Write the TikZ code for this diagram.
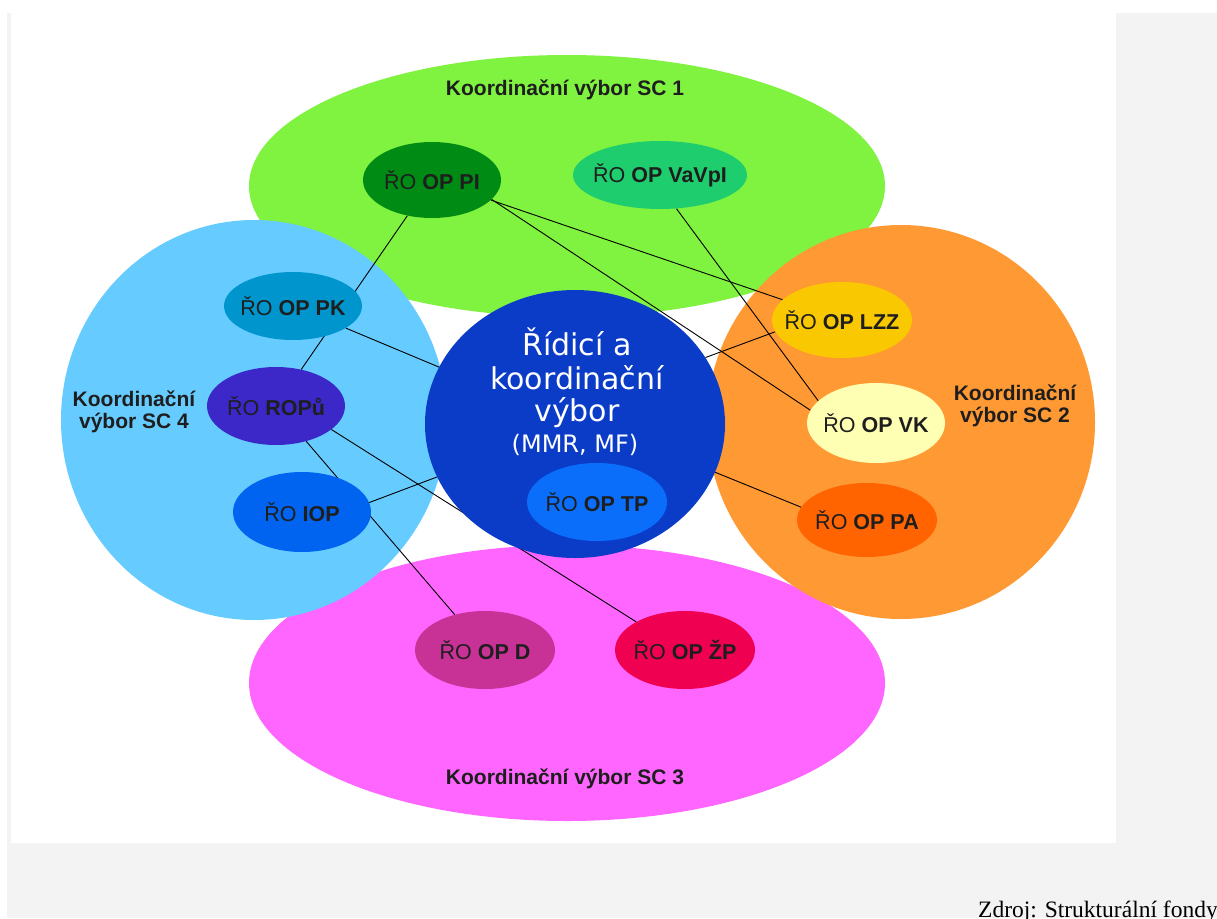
\documentclass[tikz,border=0pt]{standalone}
\usepackage{fontspec}
\setmainfont{Liberation Sans}
\newfontfamily\serifz{Liberation Serif}
\newfontfamily\dejavu{DejaVu Sans}
\usetikzlibrary{shapes.geometric}

\definecolor{bgray}{RGB}{243,243,243}
\definecolor{cgreen}{RGB}{128,242,64}
\definecolor{clblue}{RGB}{102,204,255}
\definecolor{corange}{RGB}{255,153,51}
\definecolor{cmagenta}{RGB}{255,102,255}
\definecolor{ccentral}{RGB}{10,60,200}
\definecolor{cpi}{RGB}{0,140,20}
\definecolor{cvavpi}{RGB}{30,205,110}
\definecolor{cpk}{RGB}{0,150,205}
\definecolor{cropu}{RGB}{60,40,200}
\definecolor{ciop}{RGB}{0,100,240}
\definecolor{ctp}{RGB}{10,110,250}
\definecolor{clzz}{RGB}{250,200,0}
\definecolor{cvk}{RGB}{255,255,180}
\definecolor{cpa}{RGB}{255,100,0}
\definecolor{cd}{RGB}{200,50,150}
\definecolor{czp}{RGB}{240,0,80}
\definecolor{txt}{RGB}{30,30,30}

\newcommand{\rolab}[1]{\makebox[0pt]{ŘO \textbf{#1}}}

\begin{document}
\begin{tikzpicture}[x=1pt,y=-1pt,
  big/.style={ellipse, inner sep=0pt, draw=none},
  ro/.style={ellipse, inner sep=0pt, minimum width=138pt, minimum height=76pt,
    font=\fontsize{21.5}{24}\selectfont, text=txt},
  conn/.style={draw=black, line width=0.9pt},
  klab/.style={font=\bfseries\fontsize{21}{22}\selectfont, text=txt, align=center},
  ctext/.style={text=white, font=\dejavu\fontsize{30}{34}\selectfont, inner sep=0pt}
]
\useasboundingbox (0,0) rectangle (1217,918);
\fill[bgray] (7,13) rectangle (1217,918);
\fill[white] (11,13) rectangle (1116,843);

% big committee ellipses
\node[big, fill=cgreen, minimum width=636pt, minimum height=262pt] (sc1) at (567,186) {};
\node[big, fill=cmagenta, minimum width=636pt, minimum height=276pt] (sc3) at (567,683) {};
\node[big, fill=clblue, minimum width=386pt, minimum height=400pt] (sc4) at (254,420) {};
\node[big, fill=corange, minimum width=388pt, minimum height=394pt] (sc2) at (901,422) {};

\node[klab] (l1) at (565,90) {Koordinační výbor SC 1};
\node[klab] (l3) at (565,779) {Koordinační výbor SC 3};
\node[klab] (l4) at (134,412) {Koordinační\\výbor SC 4};
\node[klab] (l2) at (1015,406) {Koordinační\\výbor SC 2};

% coordinates of ellipse centres
\coordinate (pPI) at (432,180);
\coordinate (pVaVpI) at (660,175);
\coordinate (pPK) at (293,306);
\coordinate (pROPu) at (276,406);
\coordinate (pIOP) at (302,512);
\coordinate (pTP) at (597,502);
\coordinate (pLZZ) at (842,320);
\coordinate (pVK) at (876,423);
\coordinate (pPA) at (867,520);
\coordinate (pD) at (485,650);
\coordinate (pZP) at (685,650);
\coordinate (pC) at (575,424);

% nodes (shapes drawn later, defined now for anchors)
\path node[ro, minimum height=76pt] (PI) at (pPI) {}
      node[ro, minimum width=174pt, minimum height=68pt] (VaVpI) at (pVaVpI) {}
      node[ro, minimum height=68pt] (PK) at (pPK) {}
      node[ro, minimum height=78pt] (ROPu) at (pROPu) {}
      node[ro, minimum height=80pt] (IOP) at (pIOP) {}
      node[ro, minimum width=140pt, minimum height=76pt] (LZZ) at (pLZZ) {}
      node[ro, minimum height=80pt] (VK) at (pVK) {}
      node[ro, minimum width=140pt, minimum height=74pt] (PA) at (pPA) {}
      node[ro, minimum width=140pt, minimum height=78pt] (D) at (pD) {}
      node[ro, minimum width=140pt, minimum height=78pt] (ZP) at (pZP) {}
      node[big, minimum width=300pt, minimum height=268pt] (C) at (pC) {};

% connectors
\draw[conn] (PI) -- (ROPu);
\draw[conn] (PI) -- (LZZ);
\draw[conn] (PI.-18) -- (VK.169);
\draw[conn] (VaVpI.-64) -- (VK.159);
\draw[conn] (C.27) -- (LZZ.190);
\draw[conn] (PK) -- (C);
\draw[conn] (ROPu.-23) -- (ZP.150);
\draw[conn] (ROPu) -- (D);
\draw[conn] (IOP.8) -- (C.201);
\draw[conn] (C.-19) -- (PA.169);

% small ellipses on top
\node[ro, fill=cpi, minimum height=76pt] at (pPI) {\rolab{OP PI}};
\node[ro, fill=cvavpi, minimum width=174pt, minimum height=68pt] at (pVaVpI) {\rolab{OP VaVpI}};
\node[ro, fill=cpk, minimum height=68pt] at (pPK) {\rolab{OP PK}};
\node[ro, fill=cropu, minimum height=78pt] at (pROPu) {\rolab{ROPů}};
\node[ro, fill=ciop, minimum height=80pt] at (pIOP) {\rolab{IOP}};
\node[ro, fill=clzz, minimum width=140pt, minimum height=76pt] at (pLZZ) {\rolab{OP LZZ}};
\node[ro, fill=cvk, minimum height=80pt] at (pVK) {\rolab{OP VK}};
\node[ro, fill=cpa, minimum width=140pt, minimum height=74pt] at (pPA) {\rolab{OP PA}};
\node[ro, fill=cd, minimum width=140pt, minimum height=78pt] at (pD) {\rolab{OP D}};
\node[ro, fill=czp, minimum width=140pt, minimum height=78pt] at (pZP) {\rolab{OP ŽP}};

% central committee
\node[big, fill=ccentral, minimum width=300pt, minimum height=268pt] at (pC) {};
\node[ctext] (t1) at (577,342) {Řídicí a};
\node[ctext] (t2) at (577,378) {koordinační};
\node[ctext] (t3) at (577,413) {výbor};
\node[ctext, font=\dejavu\fontsize{24}{26}\selectfont] (t4) at (575,445) {(MMR, MF)};
\node[ro, fill=ctp, minimum width=140pt, minimum height=78pt] (TP) at (pTP) {\rolab{OP TP}};

% source note (cut by the page edge, as in the reference)
\begin{scope}
\clip (0,0) rectangle (1217,918);
\node[anchor=base west, inner sep=0pt, font=\serifz\fontsize{23.5}{26}\selectfont, text=black] (src) at (978,917) {Zdroj: Strukturální fondy};
\end{scope}
\end{tikzpicture}
\end{document}
